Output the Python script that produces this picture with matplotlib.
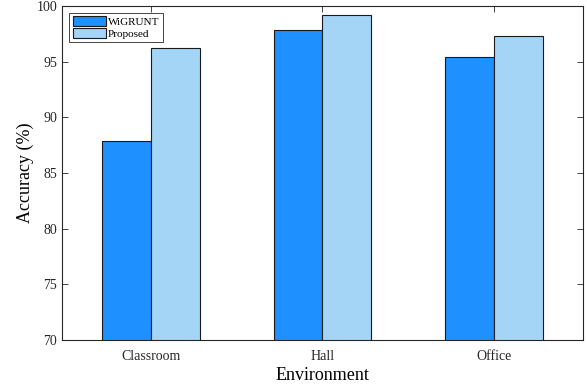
import numpy as np
import matplotlib.pyplot as plt

plt.rcParams['font.family'] = ['Liberation Serif', 'DejaVu Serif']

environments = ['Classroom', 'Hall', 'Office']
wigrunt = [87.9, 97.8, 95.4]
proposed = [96.2, 99.2, 97.3]

x = np.arange(1, len(environments) + 1)
w = 0.285

fig = plt.figure(figsize=(5.87, 3.90), dpi=100)
ax = fig.add_axes([0.1056, 0.128, 0.8874, 0.857])

ax.bar(x - w / 2, wigrunt, w, color='#1E90FF', edgecolor='#1a1a1a', linewidth=0.8, label='WiGRUNT')
ax.bar(x + w / 2, proposed, w, color='#A4D5F6', edgecolor='#1a1a1a', linewidth=0.8, label='Proposed')

ax.set_xlim(0.48, 3.52)
ax.set_ylim(70, 100)
ax.set_xticks(x)
ax.set_xticklabels(environments)
ax.set_yticks(np.arange(70, 101, 5))
ax.tick_params(direction='in', top=True, right=True, labelsize=10, length=4, width=0.6, colors='#262626')
ax.tick_params(axis='x', pad=7)
for s in ax.spines.values():
    s.set_color('#262626')
    s.set_linewidth(0.8)

ax.set_xlabel('Environment', fontsize=13, labelpad=3)
ax.set_ylabel('Accuracy (%)', fontsize=13, labelpad=2)

leg = ax.legend(loc='upper left', fontsize=8, fancybox=False, edgecolor='#262626',
                handlelength=3.0, handleheight=1.0, handletextpad=0.2, borderpad=0.3,
                labelspacing=0.1, borderaxespad=0.65, framealpha=1)
leg.get_frame().set_linewidth(0.6)

fig.savefig('out.png', dpi=100)
